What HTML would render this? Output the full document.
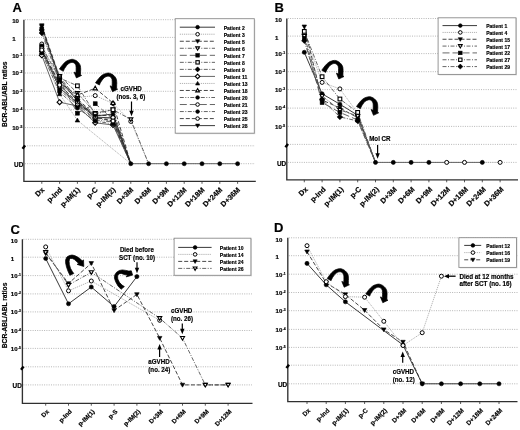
<!DOCTYPE html><html><head><meta charset="utf-8"><style>html,body{margin:0;padding:0;background:#fff;width:520px;height:430px;overflow:hidden}svg{display:block;filter:grayscale(1) blur(0.3px)}text{font-family:"Liberation Sans",sans-serif;fill:#000;stroke:#000;stroke-width:0.18px}</style></head><body>
<svg width="520" height="430" viewBox="0 0 520 430">
<line x1="24.90" y1="19.70" x2="255.00" y2="19.70" stroke="#a4a4a4" stroke-width="0.8" stroke-dasharray="1 1.3"/>
<line x1="24.90" y1="37.40" x2="255.00" y2="37.40" stroke="#a4a4a4" stroke-width="0.8" stroke-dasharray="1 1.3"/>
<line x1="24.90" y1="55.20" x2="255.00" y2="55.20" stroke="#a4a4a4" stroke-width="0.8" stroke-dasharray="1 1.3"/>
<line x1="24.90" y1="73.00" x2="255.00" y2="73.00" stroke="#a4a4a4" stroke-width="0.8" stroke-dasharray="1 1.3"/>
<line x1="24.90" y1="91.30" x2="255.00" y2="91.30" stroke="#a4a4a4" stroke-width="0.8" stroke-dasharray="1 1.3"/>
<line x1="24.90" y1="109.70" x2="255.00" y2="109.70" stroke="#a4a4a4" stroke-width="0.8" stroke-dasharray="1 1.3"/>
<line x1="24.90" y1="127.60" x2="255.00" y2="127.60" stroke="#a4a4a4" stroke-width="0.8" stroke-dasharray="1 1.3"/>
<line x1="24.90" y1="145.80" x2="255.00" y2="145.80" stroke="#a4a4a4" stroke-width="0.8" stroke-dasharray="1 1.3"/>
<line x1="24.90" y1="163.70" x2="255.00" y2="163.70" stroke="#a4a4a4" stroke-width="0.8" stroke-dasharray="1 1.3"/>
<text x="12.20" y="23.40" font-size="6.1" font-weight="bold" text-anchor="start" >10</text>
<text x="12.20" y="41.10" font-size="6.1" font-weight="bold" text-anchor="start" >1</text>
<text x="12.20" y="57.50" font-size="6.1" font-weight="bold">10<tspan font-size="3.4" dx="0.4" dy="-2.0">-1</tspan></text>
<text x="12.20" y="75.30" font-size="6.1" font-weight="bold">10<tspan font-size="3.4" dx="0.4" dy="-2.0">-2</tspan></text>
<text x="12.20" y="93.60" font-size="6.1" font-weight="bold">10<tspan font-size="3.4" dx="0.4" dy="-2.0">-3</tspan></text>
<text x="12.20" y="112.00" font-size="6.1" font-weight="bold">10<tspan font-size="3.4" dx="0.4" dy="-2.0">-4</tspan></text>
<text x="12.20" y="129.90" font-size="6.1" font-weight="bold">10<tspan font-size="3.4" dx="0.4" dy="-2.0">-5</tspan></text>
<text x="23.30" y="167.20" font-size="6.4" font-weight="bold" text-anchor="end" >UD</text>
<path d="M23.90,19.70V181.40H255.80" fill="none" stroke="#303030" stroke-width="1.35"/>
<path d="M22.50,148.70L25.10,145.40" stroke="#000" stroke-width="2.4"/>
<line x1="41.80" y1="181.40" x2="41.80" y2="183.80" stroke="#303030" stroke-width="0.8"/>
<text transform="translate(44.80,190.30) rotate(-45)" font-size="7.4" font-weight="bold" text-anchor="end">Dx</text>
<line x1="59.60" y1="181.40" x2="59.60" y2="183.80" stroke="#303030" stroke-width="0.8"/>
<text transform="translate(62.60,190.30) rotate(-45)" font-size="7.4" font-weight="bold" text-anchor="end">p-Ind</text>
<line x1="77.40" y1="181.40" x2="77.40" y2="183.80" stroke="#303030" stroke-width="0.8"/>
<text transform="translate(80.40,190.30) rotate(-45)" font-size="7.4" font-weight="bold" text-anchor="end">p-IM(1)</text>
<line x1="95.20" y1="181.40" x2="95.20" y2="183.80" stroke="#303030" stroke-width="0.8"/>
<text transform="translate(98.20,190.30) rotate(-45)" font-size="7.4" font-weight="bold" text-anchor="end">p-C</text>
<line x1="113.00" y1="181.40" x2="113.00" y2="183.80" stroke="#303030" stroke-width="0.8"/>
<text transform="translate(116.00,190.30) rotate(-45)" font-size="7.4" font-weight="bold" text-anchor="end">p-IM(2)</text>
<line x1="130.80" y1="181.40" x2="130.80" y2="183.80" stroke="#303030" stroke-width="0.8"/>
<text transform="translate(133.80,190.30) rotate(-45)" font-size="7.4" font-weight="bold" text-anchor="end">D+3M</text>
<line x1="148.60" y1="181.40" x2="148.60" y2="183.80" stroke="#303030" stroke-width="0.8"/>
<text transform="translate(151.60,190.30) rotate(-45)" font-size="7.4" font-weight="bold" text-anchor="end">D+6M</text>
<line x1="166.40" y1="181.40" x2="166.40" y2="183.80" stroke="#303030" stroke-width="0.8"/>
<text transform="translate(169.40,190.30) rotate(-45)" font-size="7.4" font-weight="bold" text-anchor="end">D+9M</text>
<line x1="184.20" y1="181.40" x2="184.20" y2="183.80" stroke="#303030" stroke-width="0.8"/>
<text transform="translate(187.20,190.30) rotate(-45)" font-size="7.4" font-weight="bold" text-anchor="end">D+12M</text>
<line x1="202.00" y1="181.40" x2="202.00" y2="183.80" stroke="#303030" stroke-width="0.8"/>
<text transform="translate(205.00,190.30) rotate(-45)" font-size="7.4" font-weight="bold" text-anchor="end">D+18M</text>
<line x1="219.80" y1="181.40" x2="219.80" y2="183.80" stroke="#303030" stroke-width="0.8"/>
<text transform="translate(222.80,190.30) rotate(-45)" font-size="7.4" font-weight="bold" text-anchor="end">D+24M</text>
<line x1="237.60" y1="181.40" x2="237.60" y2="183.80" stroke="#303030" stroke-width="0.8"/>
<text transform="translate(240.60,190.30) rotate(-45)" font-size="7.4" font-weight="bold" text-anchor="end">D+36M</text>
<text x="12.60" y="11.60" font-size="13" font-weight="bold" text-anchor="start" >A</text>
<line x1="287.80" y1="18.50" x2="517.80" y2="18.50" stroke="#a4a4a4" stroke-width="0.8" stroke-dasharray="1 1.3"/>
<line x1="287.80" y1="36.10" x2="517.80" y2="36.10" stroke="#a4a4a4" stroke-width="0.8" stroke-dasharray="1 1.3"/>
<line x1="287.80" y1="53.60" x2="517.80" y2="53.60" stroke="#a4a4a4" stroke-width="0.8" stroke-dasharray="1 1.3"/>
<line x1="287.80" y1="71.70" x2="517.80" y2="71.70" stroke="#a4a4a4" stroke-width="0.8" stroke-dasharray="1 1.3"/>
<line x1="287.80" y1="89.60" x2="517.80" y2="89.60" stroke="#a4a4a4" stroke-width="0.8" stroke-dasharray="1 1.3"/>
<line x1="287.80" y1="108.10" x2="517.80" y2="108.10" stroke="#a4a4a4" stroke-width="0.8" stroke-dasharray="1 1.3"/>
<line x1="287.80" y1="126.40" x2="517.80" y2="126.40" stroke="#a4a4a4" stroke-width="0.8" stroke-dasharray="1 1.3"/>
<line x1="287.80" y1="144.40" x2="517.80" y2="144.40" stroke="#a4a4a4" stroke-width="0.8" stroke-dasharray="1 1.3"/>
<line x1="287.80" y1="162.40" x2="517.80" y2="162.40" stroke="#a4a4a4" stroke-width="0.8" stroke-dasharray="1 1.3"/>
<text x="275.00" y="22.20" font-size="6.1" font-weight="bold" text-anchor="start" >10</text>
<text x="275.00" y="39.80" font-size="6.1" font-weight="bold" text-anchor="start" >1</text>
<text x="275.00" y="55.90" font-size="6.1" font-weight="bold">10<tspan font-size="3.4" dx="0.4" dy="-2.0">-1</tspan></text>
<text x="275.00" y="74.00" font-size="6.1" font-weight="bold">10<tspan font-size="3.4" dx="0.4" dy="-2.0">-2</tspan></text>
<text x="275.00" y="91.90" font-size="6.1" font-weight="bold">10<tspan font-size="3.4" dx="0.4" dy="-2.0">-3</tspan></text>
<text x="275.00" y="110.40" font-size="6.1" font-weight="bold">10<tspan font-size="3.4" dx="0.4" dy="-2.0">-4</tspan></text>
<text x="275.00" y="128.70" font-size="6.1" font-weight="bold">10<tspan font-size="3.4" dx="0.4" dy="-2.0">-5</tspan></text>
<text x="286.20" y="165.90" font-size="6.4" font-weight="bold" text-anchor="end" >UD</text>
<path d="M286.80,18.50V179.90H518.00" fill="none" stroke="#303030" stroke-width="1.35"/>
<path d="M285.40,147.30L288.00,144.00" stroke="#000" stroke-width="2.4"/>
<line x1="304.30" y1="179.90" x2="304.30" y2="182.30" stroke="#303030" stroke-width="0.8"/>
<text transform="translate(308.30,189.80) rotate(-45)" font-size="7.4" font-weight="bold" text-anchor="end">Dx</text>
<line x1="322.10" y1="179.90" x2="322.10" y2="182.30" stroke="#303030" stroke-width="0.8"/>
<text transform="translate(326.10,189.80) rotate(-45)" font-size="7.4" font-weight="bold" text-anchor="end">p-Ind</text>
<line x1="339.90" y1="179.90" x2="339.90" y2="182.30" stroke="#303030" stroke-width="0.8"/>
<text transform="translate(343.90,189.80) rotate(-45)" font-size="7.4" font-weight="bold" text-anchor="end">p-IM(1)</text>
<line x1="357.70" y1="179.90" x2="357.70" y2="182.30" stroke="#303030" stroke-width="0.8"/>
<text transform="translate(361.70,189.80) rotate(-45)" font-size="7.4" font-weight="bold" text-anchor="end">p-C</text>
<line x1="375.50" y1="179.90" x2="375.50" y2="182.30" stroke="#303030" stroke-width="0.8"/>
<text transform="translate(379.50,189.80) rotate(-45)" font-size="7.4" font-weight="bold" text-anchor="end">p-IM(2)</text>
<line x1="393.30" y1="179.90" x2="393.30" y2="182.30" stroke="#303030" stroke-width="0.8"/>
<text transform="translate(397.30,189.80) rotate(-45)" font-size="7.4" font-weight="bold" text-anchor="end">D+3M</text>
<line x1="411.10" y1="179.90" x2="411.10" y2="182.30" stroke="#303030" stroke-width="0.8"/>
<text transform="translate(415.10,189.80) rotate(-45)" font-size="7.4" font-weight="bold" text-anchor="end">D+6M</text>
<line x1="428.90" y1="179.90" x2="428.90" y2="182.30" stroke="#303030" stroke-width="0.8"/>
<text transform="translate(432.90,189.80) rotate(-45)" font-size="7.4" font-weight="bold" text-anchor="end">D+9M</text>
<line x1="446.70" y1="179.90" x2="446.70" y2="182.30" stroke="#303030" stroke-width="0.8"/>
<text transform="translate(450.70,189.80) rotate(-45)" font-size="7.4" font-weight="bold" text-anchor="end">D+12M</text>
<line x1="464.50" y1="179.90" x2="464.50" y2="182.30" stroke="#303030" stroke-width="0.8"/>
<text transform="translate(468.50,189.80) rotate(-45)" font-size="7.4" font-weight="bold" text-anchor="end">D+18M</text>
<line x1="482.30" y1="179.90" x2="482.30" y2="182.30" stroke="#303030" stroke-width="0.8"/>
<text transform="translate(486.30,189.80) rotate(-45)" font-size="7.4" font-weight="bold" text-anchor="end">D+24M</text>
<line x1="500.10" y1="179.90" x2="500.10" y2="182.30" stroke="#303030" stroke-width="0.8"/>
<text transform="translate(504.10,189.80) rotate(-45)" font-size="7.4" font-weight="bold" text-anchor="end">D+36M</text>
<text x="274.40" y="11.60" font-size="13" font-weight="bold" text-anchor="start" >B</text>
<line x1="23.40" y1="239.30" x2="252.00" y2="239.30" stroke="#a4a4a4" stroke-width="0.8" stroke-dasharray="1 1.3"/>
<line x1="23.40" y1="257.20" x2="252.00" y2="257.20" stroke="#a4a4a4" stroke-width="0.8" stroke-dasharray="1 1.3"/>
<line x1="23.40" y1="275.60" x2="252.00" y2="275.60" stroke="#a4a4a4" stroke-width="0.8" stroke-dasharray="1 1.3"/>
<line x1="23.40" y1="293.90" x2="252.00" y2="293.90" stroke="#a4a4a4" stroke-width="0.8" stroke-dasharray="1 1.3"/>
<line x1="23.40" y1="311.90" x2="252.00" y2="311.90" stroke="#a4a4a4" stroke-width="0.8" stroke-dasharray="1 1.3"/>
<line x1="23.40" y1="330.50" x2="252.00" y2="330.50" stroke="#a4a4a4" stroke-width="0.8" stroke-dasharray="1 1.3"/>
<line x1="23.40" y1="348.40" x2="252.00" y2="348.40" stroke="#a4a4a4" stroke-width="0.8" stroke-dasharray="1 1.3"/>
<line x1="23.40" y1="366.80" x2="252.00" y2="366.80" stroke="#a4a4a4" stroke-width="0.8" stroke-dasharray="1 1.3"/>
<line x1="23.40" y1="384.90" x2="252.00" y2="384.90" stroke="#a4a4a4" stroke-width="0.8" stroke-dasharray="1 1.3"/>
<text x="10.80" y="243.00" font-size="6.1" font-weight="bold" text-anchor="start" >10</text>
<text x="10.80" y="260.90" font-size="6.1" font-weight="bold" text-anchor="start" >1</text>
<text x="10.80" y="277.90" font-size="6.1" font-weight="bold">10<tspan font-size="3.4" dx="0.4" dy="-2.0">-1</tspan></text>
<text x="10.80" y="296.20" font-size="6.1" font-weight="bold">10<tspan font-size="3.4" dx="0.4" dy="-2.0">-2</tspan></text>
<text x="10.80" y="314.20" font-size="6.1" font-weight="bold">10<tspan font-size="3.4" dx="0.4" dy="-2.0">-3</tspan></text>
<text x="10.80" y="332.80" font-size="6.1" font-weight="bold">10<tspan font-size="3.4" dx="0.4" dy="-2.0">-4</tspan></text>
<text x="10.80" y="350.70" font-size="6.1" font-weight="bold">10<tspan font-size="3.4" dx="0.4" dy="-2.0">-5</tspan></text>
<text x="21.80" y="388.40" font-size="6.4" font-weight="bold" text-anchor="end" >UD</text>
<path d="M22.40,239.30V403.30H252.50" fill="none" stroke="#303030" stroke-width="1.35"/>
<path d="M21.00,369.70L23.60,366.40" stroke="#000" stroke-width="2.4"/>
<line x1="45.70" y1="403.30" x2="45.70" y2="405.70" stroke="#303030" stroke-width="0.8"/>
<text transform="translate(49.50,412.00) rotate(-45)" font-size="6.3" font-weight="bold" text-anchor="end">Dx</text>
<line x1="68.50" y1="403.30" x2="68.50" y2="405.70" stroke="#303030" stroke-width="0.8"/>
<text transform="translate(72.30,412.00) rotate(-45)" font-size="6.3" font-weight="bold" text-anchor="end">p-Ind</text>
<line x1="91.30" y1="403.30" x2="91.30" y2="405.70" stroke="#303030" stroke-width="0.8"/>
<text transform="translate(95.10,412.00) rotate(-45)" font-size="6.3" font-weight="bold" text-anchor="end">p-IM(1)</text>
<line x1="114.10" y1="403.30" x2="114.10" y2="405.70" stroke="#303030" stroke-width="0.8"/>
<text transform="translate(117.90,412.00) rotate(-45)" font-size="6.3" font-weight="bold" text-anchor="end">p-S</text>
<line x1="136.90" y1="403.30" x2="136.90" y2="405.70" stroke="#303030" stroke-width="0.8"/>
<text transform="translate(140.70,412.00) rotate(-45)" font-size="6.3" font-weight="bold" text-anchor="end">p-IM(2)</text>
<line x1="159.70" y1="403.30" x2="159.70" y2="405.70" stroke="#303030" stroke-width="0.8"/>
<text transform="translate(163.50,412.00) rotate(-45)" font-size="6.3" font-weight="bold" text-anchor="end">D+3M</text>
<line x1="182.50" y1="403.30" x2="182.50" y2="405.70" stroke="#303030" stroke-width="0.8"/>
<text transform="translate(186.30,412.00) rotate(-45)" font-size="6.3" font-weight="bold" text-anchor="end">D+6M</text>
<line x1="205.30" y1="403.30" x2="205.30" y2="405.70" stroke="#303030" stroke-width="0.8"/>
<text transform="translate(209.10,412.00) rotate(-45)" font-size="6.3" font-weight="bold" text-anchor="end">D+9M</text>
<line x1="228.10" y1="403.30" x2="228.10" y2="405.70" stroke="#303030" stroke-width="0.8"/>
<text transform="translate(231.90,412.00) rotate(-45)" font-size="6.3" font-weight="bold" text-anchor="end">D+12M</text>
<text x="10.50" y="234.00" font-size="13" font-weight="bold" text-anchor="start" >C</text>
<line x1="288.80" y1="237.80" x2="517.80" y2="237.80" stroke="#a4a4a4" stroke-width="0.8" stroke-dasharray="1 1.3"/>
<line x1="288.80" y1="255.70" x2="517.80" y2="255.70" stroke="#a4a4a4" stroke-width="0.8" stroke-dasharray="1 1.3"/>
<line x1="288.80" y1="274.20" x2="517.80" y2="274.20" stroke="#a4a4a4" stroke-width="0.8" stroke-dasharray="1 1.3"/>
<line x1="288.80" y1="292.50" x2="517.80" y2="292.50" stroke="#a4a4a4" stroke-width="0.8" stroke-dasharray="1 1.3"/>
<line x1="288.80" y1="310.70" x2="517.80" y2="310.70" stroke="#a4a4a4" stroke-width="0.8" stroke-dasharray="1 1.3"/>
<line x1="288.80" y1="329.40" x2="517.80" y2="329.40" stroke="#a4a4a4" stroke-width="0.8" stroke-dasharray="1 1.3"/>
<line x1="288.80" y1="347.40" x2="517.80" y2="347.40" stroke="#a4a4a4" stroke-width="0.8" stroke-dasharray="1 1.3"/>
<line x1="288.80" y1="365.20" x2="517.80" y2="365.20" stroke="#a4a4a4" stroke-width="0.8" stroke-dasharray="1 1.3"/>
<line x1="288.80" y1="383.80" x2="517.80" y2="383.80" stroke="#a4a4a4" stroke-width="0.8" stroke-dasharray="1 1.3"/>
<text x="275.50" y="241.50" font-size="6.1" font-weight="bold" text-anchor="start" >10</text>
<text x="275.50" y="259.40" font-size="6.1" font-weight="bold" text-anchor="start" >1</text>
<text x="275.50" y="276.50" font-size="6.1" font-weight="bold">10<tspan font-size="3.4" dx="0.4" dy="-2.0">-1</tspan></text>
<text x="275.50" y="294.80" font-size="6.1" font-weight="bold">10<tspan font-size="3.4" dx="0.4" dy="-2.0">-2</tspan></text>
<text x="275.50" y="313.00" font-size="6.1" font-weight="bold">10<tspan font-size="3.4" dx="0.4" dy="-2.0">-3</tspan></text>
<text x="275.50" y="331.70" font-size="6.1" font-weight="bold">10<tspan font-size="3.4" dx="0.4" dy="-2.0">-4</tspan></text>
<text x="275.50" y="349.70" font-size="6.1" font-weight="bold">10<tspan font-size="3.4" dx="0.4" dy="-2.0">-5</tspan></text>
<text x="287.20" y="387.30" font-size="6.4" font-weight="bold" text-anchor="end" >UD</text>
<path d="M287.80,237.80V401.60H517.50" fill="none" stroke="#303030" stroke-width="1.35"/>
<path d="M286.40,368.10L289.00,364.80" stroke="#000" stroke-width="2.4"/>
<line x1="307.00" y1="401.60" x2="307.00" y2="404.00" stroke="#303030" stroke-width="0.8"/>
<text transform="translate(310.70,411.00) rotate(-45)" font-size="6.4" font-weight="bold" text-anchor="end">Dx</text>
<line x1="326.20" y1="401.60" x2="326.20" y2="404.00" stroke="#303030" stroke-width="0.8"/>
<text transform="translate(329.90,411.00) rotate(-45)" font-size="6.4" font-weight="bold" text-anchor="end">p-Ind</text>
<line x1="345.40" y1="401.60" x2="345.40" y2="404.00" stroke="#303030" stroke-width="0.8"/>
<text transform="translate(349.10,411.00) rotate(-45)" font-size="6.4" font-weight="bold" text-anchor="end">p-IM(1)</text>
<line x1="364.60" y1="401.60" x2="364.60" y2="404.00" stroke="#303030" stroke-width="0.8"/>
<text transform="translate(368.30,411.00) rotate(-45)" font-size="6.4" font-weight="bold" text-anchor="end">p-C</text>
<line x1="383.80" y1="401.60" x2="383.80" y2="404.00" stroke="#303030" stroke-width="0.8"/>
<text transform="translate(387.50,411.00) rotate(-45)" font-size="6.4" font-weight="bold" text-anchor="end">p-IM(2)</text>
<line x1="403.00" y1="401.60" x2="403.00" y2="404.00" stroke="#303030" stroke-width="0.8"/>
<text transform="translate(406.70,411.00) rotate(-45)" font-size="6.4" font-weight="bold" text-anchor="end">D+3M</text>
<line x1="422.20" y1="401.60" x2="422.20" y2="404.00" stroke="#303030" stroke-width="0.8"/>
<text transform="translate(425.90,411.00) rotate(-45)" font-size="6.4" font-weight="bold" text-anchor="end">D+6M</text>
<line x1="441.40" y1="401.60" x2="441.40" y2="404.00" stroke="#303030" stroke-width="0.8"/>
<text transform="translate(445.10,411.00) rotate(-45)" font-size="6.4" font-weight="bold" text-anchor="end">D+9M</text>
<line x1="460.60" y1="401.60" x2="460.60" y2="404.00" stroke="#303030" stroke-width="0.8"/>
<text transform="translate(464.30,411.00) rotate(-45)" font-size="6.4" font-weight="bold" text-anchor="end">D+12M</text>
<line x1="479.80" y1="401.60" x2="479.80" y2="404.00" stroke="#303030" stroke-width="0.8"/>
<text transform="translate(483.50,411.00) rotate(-45)" font-size="6.4" font-weight="bold" text-anchor="end">D+18M</text>
<line x1="499.00" y1="401.60" x2="499.00" y2="404.00" stroke="#303030" stroke-width="0.8"/>
<text transform="translate(502.70,411.00) rotate(-45)" font-size="6.4" font-weight="bold" text-anchor="end">D+24M</text>
<text x="274.00" y="232.40" font-size="13" font-weight="bold" text-anchor="start" >D</text>
<text transform="translate(7.3,94.3) rotate(-90)" font-size="6.65" font-weight="bold" text-anchor="middle">BCR-ABL/ABL ratios</text>
<text transform="translate(7.0,315.4) rotate(-90)" font-size="6.65" font-weight="bold" text-anchor="middle">BCR-ABL/ABL ratios</text>
<path d="M41.80,51.00L59.60,88.00L77.40,103.00L95.20,117.00L113.00,118.00L130.80,163.70" fill="none" stroke="#222" stroke-width="0.9"/>
<path d="M41.80,44.00L59.60,84.00L77.40,97.50L95.20,95.60L113.00,103.50L130.80,121.40L148.60,163.70" fill="none" stroke="#a0a0a0" stroke-width="0.8" stroke-dasharray="1.2 0.9"/>
<path d="M41.80,25.50L59.60,77.00L77.40,99.00L95.20,115.00L113.00,116.00L130.80,163.70" fill="none" stroke="#333" stroke-width="0.9" stroke-dasharray="4 2"/>
<path d="M41.80,31.50L59.60,76.00L77.40,93.00L95.20,113.00L113.00,109.70L130.80,119.40L148.60,163.70" fill="none" stroke="#555" stroke-width="0.9" stroke-dasharray="4 1.5 1 1.5"/>
<path d="M41.80,29.00L59.60,80.00L77.40,113.20L95.20,103.70L113.00,119.00L130.80,163.70" fill="none" stroke="#555" stroke-width="0.9" stroke-dasharray="7 3"/>
<path d="M41.80,47.00L59.60,78.00L77.40,85.80L95.20,114.00L113.00,109.70L130.80,163.70" fill="none" stroke="#555" stroke-width="0.9" stroke-dasharray="4 1.5 1 1.5"/>
<path d="M41.80,33.00L59.60,82.00L77.40,100.00L95.20,118.00L113.00,121.00L130.80,163.70" fill="none" stroke="#555" stroke-width="0.9" stroke-dasharray="4 1.5 1 1.5"/>
<path d="M41.80,55.30L59.60,102.20L77.40,106.00L95.20,122.80L113.00,125.00L130.80,163.70" fill="none" stroke="#555" stroke-width="0.9"/>
<path d="M41.80,52.00L59.60,94.00L77.40,120.30L130.80,163.70" fill="none" stroke="#a0a0a0" stroke-width="0.8" stroke-dasharray="1.2 0.9"/>
<path d="M41.80,50.00L59.60,83.00L77.40,95.00L95.20,88.30L113.00,103.00L130.80,163.70" fill="none" stroke="#333" stroke-width="0.9" stroke-dasharray="4 2"/>
<path d="M41.80,46.00L59.60,90.00L77.40,105.00L95.20,120.00L113.00,122.00L130.80,163.70" fill="none" stroke="#555" stroke-width="0.9" stroke-dasharray="4 1.5 1 1.5 1 1.5"/>
<path d="M41.80,48.50L59.60,86.00L77.40,104.00L95.20,119.00L113.00,117.50L130.80,163.70" fill="none" stroke="#555" stroke-width="0.9" stroke-dasharray="7 3"/>
<path d="M41.80,53.00L59.60,92.00L77.40,108.00L95.20,121.00L113.00,124.00L130.80,163.70" fill="none" stroke="#555" stroke-width="0.9" stroke-dasharray="4 1.5 1 1.5"/>
<path d="M41.80,50.00L59.60,85.00L77.40,102.00L95.20,117.00L113.00,121.00L130.80,163.70" fill="none" stroke="#333" stroke-width="0.9" stroke-dasharray="4 2"/>
<path d="M41.80,26.50L59.60,79.00L77.40,101.00L95.20,116.00L113.00,114.00L130.80,163.70" fill="none" stroke="#222" stroke-width="0.9"/>
<path d="M130.80,163.70L237.60,163.70" fill="none" stroke="#555" stroke-width="0.9"/>
<path d="M304.30,52.30L322.10,93.80L339.90,104.20L357.70,115.30L375.50,162.40" fill="none" stroke="#222" stroke-width="0.9"/>
<path d="M304.30,33.70L322.10,82.40L339.90,88.90L357.70,113.00L375.50,162.40" fill="none" stroke="#a0a0a0" stroke-width="0.8" stroke-dasharray="1.2 0.9"/>
<path d="M304.30,26.70L322.10,100.00L339.90,108.00L357.70,117.70L375.50,162.40" fill="none" stroke="#333" stroke-width="0.9" stroke-dasharray="4 2"/>
<path d="M304.30,36.00L322.10,96.00L339.90,110.00L357.70,116.00L375.50,162.40" fill="none" stroke="#555" stroke-width="0.9" stroke-dasharray="4 1.5 1 1.5"/>
<path d="M304.30,38.40L322.10,102.60L339.90,112.40L357.70,120.00L375.50,162.40" fill="none" stroke="#555" stroke-width="0.9" stroke-dasharray="7 3"/>
<path d="M304.30,31.40L322.10,76.70L339.90,99.00L357.70,112.40L375.50,162.40" fill="none" stroke="#555" stroke-width="0.9" stroke-dasharray="4 1.5 1 1.5"/>
<path d="M304.30,40.70L322.10,99.80L339.90,116.90L357.70,121.00L375.50,162.40" fill="none" stroke="#555" stroke-width="0.9" stroke-dasharray="4 1.5 1 1.5"/>
<path d="M375.50,162.40L482.30,162.40" fill="none" stroke="#555" stroke-width="0.9"/>
<path d="M482.30,162.40L500.10,162.40" fill="none" stroke="#999" stroke-width="0.7" stroke-dasharray="1 1"/>
<path d="M45.70,246.90L68.50,290.80L91.30,281.00L159.70,320.30" fill="none" stroke="#a0a0a0" stroke-width="0.8" stroke-dasharray="1.2 0.9"/>
<path d="M45.70,253.40L68.50,283.40L91.30,263.30L114.10,310.40L136.90,294.40L159.70,338.10L182.50,384.90L205.30,384.90L228.10,384.90" fill="none" stroke="#333" stroke-width="0.9" stroke-dasharray="4 2"/>
<path d="M45.70,252.20L68.50,285.00L91.30,272.30L159.70,318.20L182.50,338.10L205.30,384.90L228.10,384.90" fill="none" stroke="#555" stroke-width="0.9" stroke-dasharray="4 1.5 1 1.5"/>
<path d="M45.70,258.50L68.50,303.80L91.30,287.00L114.10,306.60L136.90,276.60" fill="none" stroke="#222" stroke-width="0.9"/>
<path d="M307.00,263.40L326.20,284.80L345.40,301.80L403.00,345.00L422.20,383.80L441.40,383.80L460.60,383.80L479.80,383.80L499.00,383.80" fill="none" stroke="#222" stroke-width="0.9"/>
<path d="M307.00,251.70L326.20,283.00L345.40,294.50L364.60,310.20L383.80,329.60L403.00,342.00L422.20,383.80" fill="none" stroke="#333" stroke-width="0.9" stroke-dasharray="4 2"/>
<path d="M307.00,245.70L326.20,281.70L345.40,296.60L364.60,297.20L383.80,321.30L403.00,345.50L422.20,332.70L441.40,276.20" fill="none" stroke="#a0a0a0" stroke-width="0.8" stroke-dasharray="1.2 0.9"/>
<circle cx="41.80" cy="51.00" r="2.05" fill="#000" stroke="#000" stroke-width="0.6"/>
<circle cx="59.60" cy="88.00" r="2.05" fill="#000" stroke="#000" stroke-width="0.6"/>
<circle cx="77.40" cy="103.00" r="2.05" fill="#000" stroke="#000" stroke-width="0.6"/>
<circle cx="95.20" cy="117.00" r="2.05" fill="#000" stroke="#000" stroke-width="0.6"/>
<circle cx="113.00" cy="118.00" r="2.05" fill="#000" stroke="#000" stroke-width="0.6"/>
<circle cx="41.80" cy="44.00" r="2.00" fill="#fff" stroke="#000" stroke-width="1.0"/>
<circle cx="59.60" cy="84.00" r="2.00" fill="#fff" stroke="#000" stroke-width="1.0"/>
<circle cx="77.40" cy="97.50" r="2.00" fill="#fff" stroke="#000" stroke-width="1.0"/>
<circle cx="95.20" cy="95.60" r="2.00" fill="#fff" stroke="#000" stroke-width="1.0"/>
<circle cx="113.00" cy="103.50" r="2.00" fill="#fff" stroke="#000" stroke-width="1.0"/>
<circle cx="130.80" cy="121.40" r="2.00" fill="#fff" stroke="#000" stroke-width="1.0"/>
<path d="M39.55,23.81L44.05,23.81L41.80,27.75Z" fill="#000" stroke="#000" stroke-width="0.6"/>
<path d="M57.35,75.31L61.85,75.31L59.60,79.25Z" fill="#000" stroke="#000" stroke-width="0.6"/>
<path d="M75.15,97.31L79.65,97.31L77.40,101.25Z" fill="#000" stroke="#000" stroke-width="0.6"/>
<path d="M92.95,113.31L97.45,113.31L95.20,117.25Z" fill="#000" stroke="#000" stroke-width="0.6"/>
<path d="M110.75,114.31L115.25,114.31L113.00,118.25Z" fill="#000" stroke="#000" stroke-width="0.6"/>
<path d="M39.73,29.95L43.87,29.95L41.80,33.57Z" fill="#fff" stroke="#000" stroke-width="1.1"/>
<path d="M57.53,74.45L61.67,74.45L59.60,78.07Z" fill="#fff" stroke="#000" stroke-width="1.1"/>
<path d="M75.33,91.45L79.47,91.45L77.40,95.07Z" fill="#fff" stroke="#000" stroke-width="1.1"/>
<path d="M93.13,111.45L97.27,111.45L95.20,115.07Z" fill="#fff" stroke="#000" stroke-width="1.1"/>
<path d="M110.93,108.15L115.07,108.15L113.00,111.77Z" fill="#fff" stroke="#000" stroke-width="1.1"/>
<path d="M128.73,117.85L132.87,117.85L130.80,121.47Z" fill="#fff" stroke="#000" stroke-width="1.1"/>
<rect x="39.84" y="27.05" width="3.91" height="3.91" fill="#000" stroke="#000" stroke-width="0.6"/>
<rect x="57.64" y="78.05" width="3.91" height="3.91" fill="#000" stroke="#000" stroke-width="0.6"/>
<rect x="75.45" y="111.25" width="3.91" height="3.91" fill="#000" stroke="#000" stroke-width="0.6"/>
<rect x="93.25" y="101.75" width="3.91" height="3.91" fill="#000" stroke="#000" stroke-width="0.6"/>
<rect x="111.05" y="117.05" width="3.91" height="3.91" fill="#000" stroke="#000" stroke-width="0.6"/>
<rect x="39.96" y="45.16" width="3.68" height="3.68" fill="#fff" stroke="#000" stroke-width="1.1"/>
<rect x="57.76" y="76.16" width="3.68" height="3.68" fill="#fff" stroke="#000" stroke-width="1.1"/>
<rect x="75.56" y="83.96" width="3.68" height="3.68" fill="#fff" stroke="#000" stroke-width="1.1"/>
<rect x="93.36" y="112.16" width="3.68" height="3.68" fill="#fff" stroke="#000" stroke-width="1.1"/>
<rect x="111.16" y="107.86" width="3.68" height="3.68" fill="#fff" stroke="#000" stroke-width="1.1"/>
<path d="M41.80,30.24L44.56,33.00L41.80,35.76L39.04,33.00Z" fill="#000" stroke="#000" stroke-width="0.6"/>
<path d="M59.60,79.24L62.36,82.00L59.60,84.76L56.84,82.00Z" fill="#000" stroke="#000" stroke-width="0.6"/>
<path d="M77.40,97.24L80.16,100.00L77.40,102.76L74.64,100.00Z" fill="#000" stroke="#000" stroke-width="0.6"/>
<path d="M95.20,115.24L97.96,118.00L95.20,120.76L92.44,118.00Z" fill="#000" stroke="#000" stroke-width="0.6"/>
<path d="M113.00,118.24L115.76,121.00L113.00,123.76L110.24,121.00Z" fill="#000" stroke="#000" stroke-width="0.6"/>
<path d="M41.80,52.77L44.33,55.30L41.80,57.83L39.27,55.30Z" fill="#fff" stroke="#000" stroke-width="1.1"/>
<path d="M59.60,99.67L62.13,102.20L59.60,104.73L57.07,102.20Z" fill="#fff" stroke="#000" stroke-width="1.1"/>
<path d="M77.40,103.47L79.93,106.00L77.40,108.53L74.87,106.00Z" fill="#fff" stroke="#000" stroke-width="1.1"/>
<path d="M95.20,120.27L97.73,122.80L95.20,125.33L92.67,122.80Z" fill="#fff" stroke="#000" stroke-width="1.1"/>
<path d="M113.00,122.47L115.53,125.00L113.00,127.53L110.47,125.00Z" fill="#fff" stroke="#000" stroke-width="1.1"/>
<path d="M39.55,53.69L44.05,53.69L41.80,49.75Z" fill="#000" stroke="#000" stroke-width="0.6"/>
<path d="M57.35,95.69L61.85,95.69L59.60,91.75Z" fill="#000" stroke="#000" stroke-width="0.6"/>
<path d="M75.15,121.99L79.65,121.99L77.40,118.05Z" fill="#000" stroke="#000" stroke-width="0.6"/>
<path d="M39.73,51.55L43.87,51.55L41.80,47.93Z" fill="#fff" stroke="#000" stroke-width="1.1"/>
<path d="M57.53,84.55L61.67,84.55L59.60,80.93Z" fill="#fff" stroke="#000" stroke-width="1.1"/>
<path d="M75.33,96.55L79.47,96.55L77.40,92.93Z" fill="#fff" stroke="#000" stroke-width="1.1"/>
<path d="M93.13,89.85L97.27,89.85L95.20,86.23Z" fill="#fff" stroke="#000" stroke-width="1.1"/>
<path d="M110.93,104.55L115.07,104.55L113.00,100.93Z" fill="#fff" stroke="#000" stroke-width="1.1"/>
<circle cx="41.80" cy="46.00" r="2.05" fill="#000" stroke="#000" stroke-width="0.6"/>
<circle cx="59.60" cy="90.00" r="2.05" fill="#000" stroke="#000" stroke-width="0.6"/>
<circle cx="77.40" cy="105.00" r="2.05" fill="#000" stroke="#000" stroke-width="0.6"/>
<circle cx="95.20" cy="120.00" r="2.05" fill="#000" stroke="#000" stroke-width="0.6"/>
<circle cx="113.00" cy="122.00" r="2.05" fill="#000" stroke="#000" stroke-width="0.6"/>
<circle cx="41.80" cy="48.50" r="2.00" fill="#fff" stroke="#000" stroke-width="1.0"/>
<circle cx="59.60" cy="86.00" r="2.00" fill="#fff" stroke="#000" stroke-width="1.0"/>
<circle cx="77.40" cy="104.00" r="2.00" fill="#fff" stroke="#000" stroke-width="1.0"/>
<circle cx="95.20" cy="119.00" r="2.00" fill="#fff" stroke="#000" stroke-width="1.0"/>
<circle cx="113.00" cy="117.50" r="2.00" fill="#fff" stroke="#000" stroke-width="1.0"/>
<circle cx="41.80" cy="53.00" r="2.05" fill="#000" stroke="#000" stroke-width="0.6"/>
<circle cx="59.60" cy="92.00" r="2.05" fill="#000" stroke="#000" stroke-width="0.6"/>
<circle cx="77.40" cy="108.00" r="2.05" fill="#000" stroke="#000" stroke-width="0.6"/>
<circle cx="95.20" cy="121.00" r="2.05" fill="#000" stroke="#000" stroke-width="0.6"/>
<circle cx="113.00" cy="124.00" r="2.05" fill="#000" stroke="#000" stroke-width="0.6"/>
<circle cx="41.80" cy="50.00" r="2.00" fill="#fff" stroke="#000" stroke-width="1.0"/>
<circle cx="59.60" cy="85.00" r="2.00" fill="#fff" stroke="#000" stroke-width="1.0"/>
<circle cx="77.40" cy="102.00" r="2.00" fill="#fff" stroke="#000" stroke-width="1.0"/>
<circle cx="95.20" cy="117.00" r="2.00" fill="#fff" stroke="#000" stroke-width="1.0"/>
<circle cx="113.00" cy="121.00" r="2.00" fill="#fff" stroke="#000" stroke-width="1.0"/>
<path d="M39.55,24.81L44.05,24.81L41.80,28.75Z" fill="#000" stroke="#000" stroke-width="0.6"/>
<path d="M57.35,77.31L61.85,77.31L59.60,81.25Z" fill="#000" stroke="#000" stroke-width="0.6"/>
<path d="M75.15,99.31L79.65,99.31L77.40,103.25Z" fill="#000" stroke="#000" stroke-width="0.6"/>
<path d="M92.95,114.31L97.45,114.31L95.20,118.25Z" fill="#000" stroke="#000" stroke-width="0.6"/>
<path d="M110.75,112.31L115.25,112.31L113.00,116.25Z" fill="#000" stroke="#000" stroke-width="0.6"/>
<circle cx="130.80" cy="163.70" r="2.05" fill="#000" stroke="#000" stroke-width="0.6"/>
<circle cx="148.60" cy="163.70" r="2.05" fill="#000" stroke="#000" stroke-width="0.6"/>
<circle cx="166.40" cy="163.70" r="2.05" fill="#000" stroke="#000" stroke-width="0.6"/>
<circle cx="184.20" cy="163.70" r="2.05" fill="#000" stroke="#000" stroke-width="0.6"/>
<circle cx="202.00" cy="163.70" r="2.05" fill="#000" stroke="#000" stroke-width="0.6"/>
<circle cx="219.80" cy="163.70" r="2.05" fill="#000" stroke="#000" stroke-width="0.6"/>
<circle cx="237.60" cy="163.70" r="2.05" fill="#000" stroke="#000" stroke-width="0.6"/>
<circle cx="304.30" cy="52.30" r="2.05" fill="#000" stroke="#000" stroke-width="0.6"/>
<circle cx="322.10" cy="93.80" r="2.05" fill="#000" stroke="#000" stroke-width="0.6"/>
<circle cx="339.90" cy="104.20" r="2.05" fill="#000" stroke="#000" stroke-width="0.6"/>
<circle cx="357.70" cy="115.30" r="2.05" fill="#000" stroke="#000" stroke-width="0.6"/>
<circle cx="304.30" cy="33.70" r="2.00" fill="#fff" stroke="#000" stroke-width="1.0"/>
<circle cx="322.10" cy="82.40" r="2.00" fill="#fff" stroke="#000" stroke-width="1.0"/>
<circle cx="339.90" cy="88.90" r="2.00" fill="#fff" stroke="#000" stroke-width="1.0"/>
<circle cx="357.70" cy="113.00" r="2.00" fill="#fff" stroke="#000" stroke-width="1.0"/>
<path d="M302.05,25.01L306.55,25.01L304.30,28.95Z" fill="#000" stroke="#000" stroke-width="0.6"/>
<path d="M319.85,98.31L324.35,98.31L322.10,102.25Z" fill="#000" stroke="#000" stroke-width="0.6"/>
<path d="M337.65,106.31L342.15,106.31L339.90,110.25Z" fill="#000" stroke="#000" stroke-width="0.6"/>
<path d="M355.45,116.01L359.95,116.01L357.70,119.95Z" fill="#000" stroke="#000" stroke-width="0.6"/>
<path d="M302.23,34.45L306.37,34.45L304.30,38.07Z" fill="#fff" stroke="#000" stroke-width="1.1"/>
<path d="M320.03,94.45L324.17,94.45L322.10,98.07Z" fill="#fff" stroke="#000" stroke-width="1.1"/>
<path d="M337.83,108.45L341.97,108.45L339.90,112.07Z" fill="#fff" stroke="#000" stroke-width="1.1"/>
<path d="M355.63,114.45L359.77,114.45L357.70,118.07Z" fill="#fff" stroke="#000" stroke-width="1.1"/>
<rect x="302.35" y="36.45" width="3.91" height="3.91" fill="#000" stroke="#000" stroke-width="0.6"/>
<rect x="320.15" y="100.64" width="3.91" height="3.91" fill="#000" stroke="#000" stroke-width="0.6"/>
<rect x="337.95" y="110.45" width="3.91" height="3.91" fill="#000" stroke="#000" stroke-width="0.6"/>
<rect x="355.75" y="118.05" width="3.91" height="3.91" fill="#000" stroke="#000" stroke-width="0.6"/>
<rect x="302.46" y="29.56" width="3.68" height="3.68" fill="#fff" stroke="#000" stroke-width="1.1"/>
<rect x="320.26" y="74.86" width="3.68" height="3.68" fill="#fff" stroke="#000" stroke-width="1.1"/>
<rect x="338.06" y="97.16" width="3.68" height="3.68" fill="#fff" stroke="#000" stroke-width="1.1"/>
<rect x="355.86" y="110.56" width="3.68" height="3.68" fill="#fff" stroke="#000" stroke-width="1.1"/>
<path d="M304.30,37.94L307.06,40.70L304.30,43.46L301.54,40.70Z" fill="#000" stroke="#000" stroke-width="0.6"/>
<path d="M322.10,97.04L324.86,99.80L322.10,102.56L319.34,99.80Z" fill="#000" stroke="#000" stroke-width="0.6"/>
<path d="M339.90,114.14L342.66,116.90L339.90,119.66L337.14,116.90Z" fill="#000" stroke="#000" stroke-width="0.6"/>
<path d="M357.70,118.24L360.46,121.00L357.70,123.76L354.94,121.00Z" fill="#000" stroke="#000" stroke-width="0.6"/>
<circle cx="375.50" cy="162.40" r="2.05" fill="#000" stroke="#000" stroke-width="0.6"/>
<circle cx="393.30" cy="162.40" r="2.05" fill="#000" stroke="#000" stroke-width="0.6"/>
<circle cx="411.10" cy="162.40" r="2.05" fill="#000" stroke="#000" stroke-width="0.6"/>
<circle cx="428.90" cy="162.40" r="2.05" fill="#000" stroke="#000" stroke-width="0.6"/>
<circle cx="446.70" cy="162.40" r="2.00" fill="#fff" stroke="#000" stroke-width="1.0"/>
<circle cx="464.50" cy="162.40" r="2.00" fill="#fff" stroke="#000" stroke-width="1.0"/>
<circle cx="482.30" cy="162.40" r="2.05" fill="#000" stroke="#000" stroke-width="0.6"/>
<circle cx="500.10" cy="162.40" r="2.00" fill="#fff" stroke="#000" stroke-width="1.0"/>
<circle cx="45.70" cy="246.90" r="2.00" fill="#fff" stroke="#000" stroke-width="1.0"/>
<circle cx="68.50" cy="290.80" r="2.00" fill="#fff" stroke="#000" stroke-width="1.0"/>
<circle cx="91.30" cy="281.00" r="2.00" fill="#fff" stroke="#000" stroke-width="1.0"/>
<circle cx="159.70" cy="320.30" r="2.00" fill="#fff" stroke="#000" stroke-width="1.0"/>
<path d="M43.45,251.71L47.95,251.71L45.70,255.65Z" fill="#000" stroke="#000" stroke-width="0.6"/>
<path d="M66.25,281.71L70.75,281.71L68.50,285.65Z" fill="#000" stroke="#000" stroke-width="0.6"/>
<path d="M89.05,261.61L93.55,261.61L91.30,265.55Z" fill="#000" stroke="#000" stroke-width="0.6"/>
<path d="M111.85,308.71L116.35,308.71L114.10,312.65Z" fill="#000" stroke="#000" stroke-width="0.6"/>
<path d="M134.65,292.71L139.15,292.71L136.90,296.65Z" fill="#000" stroke="#000" stroke-width="0.6"/>
<path d="M157.45,336.41L161.95,336.41L159.70,340.35Z" fill="#000" stroke="#000" stroke-width="0.6"/>
<path d="M180.25,383.21L184.75,383.21L182.50,387.15Z" fill="#000" stroke="#000" stroke-width="0.6"/>
<path d="M203.05,383.21L207.55,383.21L205.30,387.15Z" fill="#000" stroke="#000" stroke-width="0.6"/>
<path d="M225.85,383.21L230.35,383.21L228.10,387.15Z" fill="#000" stroke="#000" stroke-width="0.6"/>
<path d="M43.63,250.65L47.77,250.65L45.70,254.27Z" fill="#fff" stroke="#000" stroke-width="1.1"/>
<path d="M66.43,283.45L70.57,283.45L68.50,287.07Z" fill="#fff" stroke="#000" stroke-width="1.1"/>
<path d="M89.23,270.75L93.37,270.75L91.30,274.37Z" fill="#fff" stroke="#000" stroke-width="1.1"/>
<path d="M157.63,316.65L161.77,316.65L159.70,320.27Z" fill="#fff" stroke="#000" stroke-width="1.1"/>
<path d="M180.43,336.55L184.57,336.55L182.50,340.17Z" fill="#fff" stroke="#000" stroke-width="1.1"/>
<path d="M203.23,383.35L207.37,383.35L205.30,386.97Z" fill="#fff" stroke="#000" stroke-width="1.1"/>
<path d="M226.03,383.35L230.17,383.35L228.10,386.97Z" fill="#fff" stroke="#000" stroke-width="1.1"/>
<circle cx="45.70" cy="258.50" r="2.05" fill="#000" stroke="#000" stroke-width="0.6"/>
<circle cx="68.50" cy="303.80" r="2.05" fill="#000" stroke="#000" stroke-width="0.6"/>
<circle cx="91.30" cy="287.00" r="2.05" fill="#000" stroke="#000" stroke-width="0.6"/>
<circle cx="114.10" cy="306.60" r="2.05" fill="#000" stroke="#000" stroke-width="0.6"/>
<circle cx="136.90" cy="276.60" r="2.05" fill="#000" stroke="#000" stroke-width="0.6"/>
<circle cx="307.00" cy="263.40" r="2.05" fill="#000" stroke="#000" stroke-width="0.6"/>
<circle cx="326.20" cy="284.80" r="2.05" fill="#000" stroke="#000" stroke-width="0.6"/>
<circle cx="345.40" cy="301.80" r="2.05" fill="#000" stroke="#000" stroke-width="0.6"/>
<circle cx="403.00" cy="345.00" r="2.05" fill="#000" stroke="#000" stroke-width="0.6"/>
<circle cx="422.20" cy="383.80" r="2.05" fill="#000" stroke="#000" stroke-width="0.6"/>
<circle cx="441.40" cy="383.80" r="2.05" fill="#000" stroke="#000" stroke-width="0.6"/>
<circle cx="460.60" cy="383.80" r="2.05" fill="#000" stroke="#000" stroke-width="0.6"/>
<circle cx="479.80" cy="383.80" r="2.05" fill="#000" stroke="#000" stroke-width="0.6"/>
<circle cx="499.00" cy="383.80" r="2.05" fill="#000" stroke="#000" stroke-width="0.6"/>
<path d="M304.75,250.01L309.25,250.01L307.00,253.95Z" fill="#000" stroke="#000" stroke-width="0.6"/>
<path d="M323.95,281.31L328.45,281.31L326.20,285.25Z" fill="#000" stroke="#000" stroke-width="0.6"/>
<path d="M343.15,292.81L347.65,292.81L345.40,296.75Z" fill="#000" stroke="#000" stroke-width="0.6"/>
<path d="M362.35,308.51L366.85,308.51L364.60,312.45Z" fill="#000" stroke="#000" stroke-width="0.6"/>
<path d="M381.55,327.91L386.05,327.91L383.80,331.85Z" fill="#000" stroke="#000" stroke-width="0.6"/>
<path d="M400.75,340.31L405.25,340.31L403.00,344.25Z" fill="#000" stroke="#000" stroke-width="0.6"/>
<path d="M419.95,382.11L424.45,382.11L422.20,386.05Z" fill="#000" stroke="#000" stroke-width="0.6"/>
<circle cx="307.00" cy="245.70" r="2.00" fill="#fff" stroke="#000" stroke-width="1.0"/>
<circle cx="326.20" cy="281.70" r="2.00" fill="#fff" stroke="#000" stroke-width="1.0"/>
<circle cx="345.40" cy="296.60" r="2.00" fill="#fff" stroke="#000" stroke-width="1.0"/>
<circle cx="364.60" cy="297.20" r="2.00" fill="#fff" stroke="#000" stroke-width="1.0"/>
<circle cx="383.80" cy="321.30" r="2.00" fill="#fff" stroke="#000" stroke-width="1.0"/>
<circle cx="403.00" cy="345.50" r="2.00" fill="#fff" stroke="#000" stroke-width="1.0"/>
<circle cx="422.20" cy="332.70" r="2.00" fill="#fff" stroke="#000" stroke-width="1.0"/>
<circle cx="441.40" cy="276.20" r="2.00" fill="#fff" stroke="#000" stroke-width="1.0"/>
<rect x="176.20" y="19.70" width="79.10" height="114.50" fill="#dcdcdc" stroke="none"/>
<rect x="175.20" y="18.70" width="79.10" height="114.50" fill="#fff" stroke="#8a8a8a" stroke-width="0.9"/>
<path d="M179.80,27.20L215.00,27.20" fill="none" stroke="#222" stroke-width="0.9"/>
<circle cx="197.60" cy="27.20" r="1.85" fill="#000" stroke="#000" stroke-width="0.6"/>
<text transform="translate(223.70,29.65) scale(0.87,1)" font-size="5.8" font-weight="bold">Patient 2</text>
<path d="M179.80,34.23L215.00,34.23" fill="none" stroke="#a0a0a0" stroke-width="0.8" stroke-dasharray="1.2 0.9"/>
<circle cx="197.60" cy="34.23" r="1.80" fill="#fff" stroke="#000" stroke-width="1.0"/>
<text transform="translate(223.70,36.68) scale(0.87,1)" font-size="5.8" font-weight="bold">Patient 3</text>
<path d="M179.80,41.26L215.00,41.26" fill="none" stroke="#333" stroke-width="0.9" stroke-dasharray="4 2"/>
<path d="M195.54,39.72L199.66,39.72L197.60,43.32Z" fill="#000" stroke="#000" stroke-width="0.6"/>
<text transform="translate(223.70,43.71) scale(0.87,1)" font-size="5.8" font-weight="bold">Patient 5</text>
<path d="M179.80,48.29L215.00,48.29" fill="none" stroke="#555" stroke-width="0.9" stroke-dasharray="4 1.5 1 1.5"/>
<path d="M195.71,46.87L199.49,46.87L197.60,50.18Z" fill="#fff" stroke="#000" stroke-width="1.1"/>
<text transform="translate(223.70,50.74) scale(0.87,1)" font-size="5.8" font-weight="bold">Patient 6</text>
<path d="M179.80,55.32L215.00,55.32" fill="none" stroke="#555" stroke-width="0.9" stroke-dasharray="7 3"/>
<rect x="195.81" y="53.54" width="3.57" height="3.57" fill="#000" stroke="#000" stroke-width="0.6"/>
<text transform="translate(223.70,57.77) scale(0.87,1)" font-size="5.8" font-weight="bold">Patient 7</text>
<path d="M179.80,62.35L215.00,62.35" fill="none" stroke="#555" stroke-width="0.9" stroke-dasharray="4 1.5 1 1.5"/>
<rect x="195.92" y="60.67" width="3.36" height="3.36" fill="#fff" stroke="#000" stroke-width="1.1"/>
<text transform="translate(223.70,64.80) scale(0.87,1)" font-size="5.8" font-weight="bold">Patient 8</text>
<path d="M179.80,69.38L215.00,69.38" fill="none" stroke="#555" stroke-width="0.9" stroke-dasharray="4 1.5 1 1.5"/>
<path d="M197.60,66.86L200.12,69.38L197.60,71.90L195.08,69.38Z" fill="#000" stroke="#000" stroke-width="0.6"/>
<text transform="translate(223.70,71.83) scale(0.87,1)" font-size="5.8" font-weight="bold">Patient 9</text>
<path d="M179.80,76.41L215.00,76.41" fill="none" stroke="#555" stroke-width="0.9"/>
<path d="M197.60,74.10L199.91,76.41L197.60,78.72L195.29,76.41Z" fill="#fff" stroke="#000" stroke-width="1.1"/>
<text transform="translate(223.70,78.86) scale(0.87,1)" font-size="5.8" font-weight="bold">Patient 11</text>
<path d="M179.80,83.44L215.00,83.44" fill="none" stroke="#a0a0a0" stroke-width="0.8" stroke-dasharray="1.2 0.9"/>
<path d="M195.54,84.98L199.66,84.98L197.60,81.38Z" fill="#000" stroke="#000" stroke-width="0.6"/>
<text transform="translate(223.70,85.89) scale(0.87,1)" font-size="5.8" font-weight="bold">Patient 13</text>
<path d="M179.80,90.47L215.00,90.47" fill="none" stroke="#333" stroke-width="0.9" stroke-dasharray="4 2"/>
<path d="M195.71,91.89L199.49,91.89L197.60,88.58Z" fill="#fff" stroke="#000" stroke-width="1.1"/>
<text transform="translate(223.70,92.92) scale(0.87,1)" font-size="5.8" font-weight="bold">Patient 18</text>
<path d="M179.80,97.50L215.00,97.50" fill="none" stroke="#555" stroke-width="0.9" stroke-dasharray="4 1.5 1 1.5 1 1.5"/>
<circle cx="197.60" cy="97.50" r="1.85" fill="#000" stroke="#000" stroke-width="0.6"/>
<text transform="translate(223.70,99.95) scale(0.87,1)" font-size="5.8" font-weight="bold">Patient 20</text>
<path d="M179.80,104.53L215.00,104.53" fill="none" stroke="#555" stroke-width="0.9" stroke-dasharray="7 3"/>
<circle cx="197.60" cy="104.53" r="1.80" fill="#fff" stroke="#000" stroke-width="1.0"/>
<text transform="translate(223.70,106.98) scale(0.87,1)" font-size="5.8" font-weight="bold">Patient 21</text>
<path d="M179.80,111.56L215.00,111.56" fill="none" stroke="#555" stroke-width="0.9" stroke-dasharray="4 1.5 1 1.5"/>
<circle cx="197.60" cy="111.56" r="1.85" fill="#000" stroke="#000" stroke-width="0.6"/>
<text transform="translate(223.70,114.01) scale(0.87,1)" font-size="5.8" font-weight="bold">Patient 23</text>
<path d="M179.80,118.59L215.00,118.59" fill="none" stroke="#333" stroke-width="0.9" stroke-dasharray="4 2"/>
<circle cx="197.60" cy="118.59" r="1.80" fill="#fff" stroke="#000" stroke-width="1.0"/>
<text transform="translate(223.70,121.04) scale(0.87,1)" font-size="5.8" font-weight="bold">Patient 25</text>
<path d="M179.80,125.62L215.00,125.62" fill="none" stroke="#222" stroke-width="0.9"/>
<path d="M195.54,124.08L199.66,124.08L197.60,127.68Z" fill="#000" stroke="#000" stroke-width="0.6"/>
<text transform="translate(223.70,128.07) scale(0.87,1)" font-size="5.8" font-weight="bold">Patient 28</text>
<rect x="439.10" y="18.80" width="77.90" height="56.60" fill="#dcdcdc" stroke="none"/>
<rect x="438.10" y="17.80" width="77.90" height="56.60" fill="#fff" stroke="#8a8a8a" stroke-width="0.9"/>
<path d="M442.50,25.60L477.00,25.60" fill="none" stroke="#222" stroke-width="0.9"/>
<circle cx="460.30" cy="25.60" r="1.85" fill="#000" stroke="#000" stroke-width="0.6"/>
<text transform="translate(486.20,28.05) scale(0.87,1)" font-size="5.8" font-weight="bold">Patient 1</text>
<path d="M442.50,32.43L477.00,32.43" fill="none" stroke="#a0a0a0" stroke-width="0.8" stroke-dasharray="1.2 0.9"/>
<circle cx="460.30" cy="32.43" r="1.80" fill="#fff" stroke="#000" stroke-width="1.0"/>
<text transform="translate(486.20,34.88) scale(0.87,1)" font-size="5.8" font-weight="bold">Patient 4</text>
<path d="M442.50,39.26L477.00,39.26" fill="none" stroke="#333" stroke-width="0.9" stroke-dasharray="4 2"/>
<path d="M458.24,37.72L462.36,37.72L460.30,41.32Z" fill="#000" stroke="#000" stroke-width="0.6"/>
<text transform="translate(486.20,41.71) scale(0.87,1)" font-size="5.8" font-weight="bold">Patient 15</text>
<path d="M442.50,46.09L477.00,46.09" fill="none" stroke="#555" stroke-width="0.9" stroke-dasharray="4 1.5 1 1.5"/>
<path d="M458.41,44.67L462.19,44.67L460.30,47.98Z" fill="#fff" stroke="#000" stroke-width="1.1"/>
<text transform="translate(486.20,48.54) scale(0.87,1)" font-size="5.8" font-weight="bold">Patient 17</text>
<path d="M442.50,52.92L477.00,52.92" fill="none" stroke="#555" stroke-width="0.9" stroke-dasharray="7 3"/>
<rect x="458.51" y="51.14" width="3.57" height="3.57" fill="#000" stroke="#000" stroke-width="0.6"/>
<text transform="translate(486.20,55.37) scale(0.87,1)" font-size="5.8" font-weight="bold">Patient 22</text>
<path d="M442.50,59.75L477.00,59.75" fill="none" stroke="#555" stroke-width="0.9" stroke-dasharray="4 1.5 1 1.5"/>
<rect x="458.62" y="58.07" width="3.36" height="3.36" fill="#fff" stroke="#000" stroke-width="1.1"/>
<text transform="translate(486.20,62.20) scale(0.87,1)" font-size="5.8" font-weight="bold">Patient 27</text>
<path d="M442.50,66.58L477.00,66.58" fill="none" stroke="#555" stroke-width="0.9" stroke-dasharray="4 1.5 1 1.5"/>
<path d="M460.30,64.06L462.82,66.58L460.30,69.10L457.78,66.58Z" fill="#000" stroke="#000" stroke-width="0.6"/>
<text transform="translate(486.20,69.03) scale(0.87,1)" font-size="5.8" font-weight="bold">Patient 29</text>
<rect x="175.10" y="239.20" width="76.80" height="37.10" fill="#dcdcdc" stroke="none"/>
<rect x="174.10" y="238.20" width="76.80" height="37.10" fill="#fff" stroke="#8a8a8a" stroke-width="0.9"/>
<path d="M178.20,247.40L211.60,247.40" fill="none" stroke="#222" stroke-width="0.9"/>
<circle cx="195.10" cy="247.40" r="1.85" fill="#000" stroke="#000" stroke-width="0.6"/>
<text transform="translate(219.80,249.85) scale(0.87,1)" font-size="5.8" font-weight="bold">Patient 10</text>
<path d="M178.20,254.40L211.60,254.40" fill="none" stroke="#a0a0a0" stroke-width="0.8" stroke-dasharray="1.2 0.9"/>
<circle cx="195.10" cy="254.40" r="1.80" fill="#fff" stroke="#000" stroke-width="1.0"/>
<text transform="translate(219.80,256.85) scale(0.87,1)" font-size="5.8" font-weight="bold">Patient 14</text>
<path d="M178.20,261.40L211.60,261.40" fill="none" stroke="#333" stroke-width="0.9" stroke-dasharray="4 2"/>
<path d="M193.04,259.86L197.16,259.86L195.10,263.46Z" fill="#000" stroke="#000" stroke-width="0.6"/>
<text transform="translate(219.80,263.85) scale(0.87,1)" font-size="5.8" font-weight="bold">Patient 24</text>
<path d="M178.20,268.40L211.60,268.40" fill="none" stroke="#555" stroke-width="0.9" stroke-dasharray="4 1.5 1 1.5"/>
<path d="M193.21,266.98L196.99,266.98L195.10,270.29Z" fill="#fff" stroke="#000" stroke-width="1.1"/>
<text transform="translate(219.80,270.85) scale(0.87,1)" font-size="5.8" font-weight="bold">Patient 26</text>
<rect x="459.90" y="238.70" width="57.60" height="29.70" fill="#dcdcdc" stroke="none"/>
<rect x="458.90" y="237.70" width="57.60" height="29.70" fill="#fff" stroke="#8a8a8a" stroke-width="0.9"/>
<path d="M464.20,245.40L481.20,245.40" fill="none" stroke="#222" stroke-width="0.9"/>
<circle cx="472.90" cy="245.40" r="1.85" fill="#000" stroke="#000" stroke-width="0.6"/>
<text transform="translate(486.30,247.85) scale(0.87,1)" font-size="5.8" font-weight="bold">Patient 12</text>
<path d="M464.20,252.60L481.20,252.60" fill="none" stroke="#a0a0a0" stroke-width="0.8" stroke-dasharray="1.2 0.9"/>
<circle cx="472.90" cy="252.60" r="1.80" fill="#fff" stroke="#000" stroke-width="1.0"/>
<text transform="translate(486.30,255.05) scale(0.87,1)" font-size="5.8" font-weight="bold">Patient 16</text>
<path d="M464.20,259.80L481.20,259.80" fill="none" stroke="#333" stroke-width="0.9" stroke-dasharray="4 2"/>
<path d="M470.84,258.26L474.96,258.26L472.90,261.86Z" fill="#000" stroke="#000" stroke-width="0.6"/>
<text transform="translate(486.30,262.25) scale(0.87,1)" font-size="5.8" font-weight="bold">Patient 19</text>
<path d="M59.40,69.10L61.00,66.80L62.50,64.90L64.10,63.10L65.80,61.60L67.50,60.50L69.20,59.90L70.60,59.50L72.00,59.30L73.40,59.40L74.70,59.90L76.20,60.60L77.50,61.60L78.80,62.90L79.80,64.40L80.40,66.00L80.60,67.70L80.70,69.40L80.60,71.10L80.50,74.90L81.60,75.40L76.40,77.90L74.00,72.10L76.00,72.90L76.10,70.00L76.10,67.50L75.90,65.60L75.30,64.30L74.50,63.30L73.50,62.70L72.40,62.40L71.10,62.50L69.70,63.00L68.20,63.90L66.90,65.20L65.80,66.70L64.70,68.30L63.90,69.80L63.30,71.30Z" fill="#000" stroke="#000" stroke-width="0.7" stroke-linejoin="round"/>
<path d="M95.50,82.85L97.10,80.55L98.60,78.65L100.20,76.85L101.90,75.35L103.60,74.25L105.30,73.65L106.70,73.25L108.10,73.05L109.50,73.15L110.80,73.65L112.30,74.35L113.60,75.35L114.90,76.65L115.90,78.15L116.50,79.75L116.70,81.45L116.80,83.15L116.70,84.85L116.60,88.65L117.70,89.15L112.50,91.65L110.10,85.85L112.10,86.65L112.20,83.75L112.20,81.25L112.00,79.35L111.40,78.05L110.60,77.05L109.60,76.45L108.50,76.15L107.20,76.25L105.80,76.75L104.30,77.65L103.00,78.95L101.90,80.45L100.80,82.05L100.00,83.55L99.40,85.05Z" fill="#000" stroke="#000" stroke-width="0.7" stroke-linejoin="round"/>
<path d="M321.80,70.20L323.40,67.90L324.90,66.00L326.50,64.20L328.20,62.70L329.90,61.60L331.60,61.00L333.00,60.60L334.40,60.40L335.80,60.50L337.10,61.00L338.60,61.70L339.90,62.70L341.20,64.00L342.20,65.50L342.80,67.10L343.00,68.80L343.10,70.50L343.00,72.20L342.90,76.00L344.00,76.50L338.80,79.00L336.40,73.20L338.40,74.00L338.50,71.10L338.50,68.60L338.30,66.70L337.70,65.40L336.90,64.40L335.90,63.80L334.80,63.50L333.50,63.60L332.10,64.10L330.60,65.00L329.30,66.30L328.20,67.80L327.10,69.40L326.30,70.90L325.70,72.40Z" fill="#000" stroke="#000" stroke-width="0.7" stroke-linejoin="round"/>
<path d="M356.50,106.50L358.10,104.20L359.60,102.30L361.20,100.50L362.90,99.00L364.60,97.90L366.30,97.30L367.70,96.90L369.10,96.70L370.50,96.80L371.80,97.30L373.30,98.00L374.60,99.00L375.90,100.30L376.90,101.80L377.50,103.40L377.70,105.10L377.80,106.80L377.70,108.50L377.60,112.30L378.70,112.80L373.50,115.30L371.10,109.50L373.10,110.30L373.20,107.40L373.20,104.90L373.00,103.00L372.40,101.70L371.60,100.70L370.60,100.10L369.50,99.80L368.20,99.90L366.80,100.40L365.30,101.30L364.00,102.60L362.90,104.10L361.80,105.70L361.00,107.20L360.40,108.70Z" fill="#000" stroke="#000" stroke-width="0.7" stroke-linejoin="round"/>
<path d="M327.20,278.45L328.80,276.15L330.30,274.25L331.90,272.45L333.60,270.95L335.30,269.85L337.00,269.25L338.40,268.85L339.80,268.65L341.20,268.75L342.50,269.25L344.00,269.95L345.30,270.95L346.60,272.25L347.60,273.75L348.20,275.35L348.40,277.05L348.50,278.75L348.40,280.45L348.30,284.25L349.40,284.75L344.20,287.25L341.80,281.45L343.80,282.25L343.90,279.35L343.90,276.85L343.70,274.95L343.10,273.65L342.30,272.65L341.30,272.05L340.20,271.75L338.90,271.85L337.50,272.35L336.00,273.25L334.70,274.55L333.60,276.05L332.50,277.65L331.70,279.15L331.10,280.65Z" fill="#000" stroke="#000" stroke-width="0.7" stroke-linejoin="round"/>
<path d="M365.80,293.90L367.40,291.60L368.90,289.70L370.50,287.90L372.20,286.40L373.90,285.30L375.60,284.70L377.00,284.30L378.40,284.10L379.80,284.20L381.10,284.70L382.60,285.40L383.90,286.40L385.20,287.70L386.20,289.20L386.80,290.80L387.00,292.50L387.10,294.20L387.00,295.90L386.90,299.70L388.00,300.20L382.80,302.70L380.40,296.90L382.40,297.70L382.50,294.80L382.50,292.30L382.30,290.40L381.70,289.10L380.90,288.10L379.90,287.50L378.80,287.20L377.50,287.30L376.10,287.80L374.60,288.70L373.30,290.00L372.20,291.50L371.10,293.10L370.30,294.60L369.70,296.10Z" fill="#000" stroke="#000" stroke-width="0.7" stroke-linejoin="round"/>
<path d="M69.90,275.30L68.00,271.30L66.50,267.10L65.60,262.90L65.60,259.90L66.80,257.10L69.30,255.60L72.00,255.00L74.70,255.60L77.70,257.10L80.30,259.00L82.20,260.80L83.50,259.90L83.80,266.50L77.10,264.40L78.60,263.30L76.50,261.50L74.50,259.60L72.30,258.50L70.50,258.50L69.50,259.50L69.10,261.30L69.40,264.50L70.50,268.30L72.20,271.30L73.80,273.50Z" fill="#000" stroke="#000" stroke-width="0.7" stroke-linejoin="round"/>
<path d="M121.10,289.30L118.00,286.00L115.60,281.70L114.40,278.10L114.70,275.10L116.50,272.30L119.30,270.50L122.30,269.90L125.90,270.40L128.90,271.10L131.30,270.80L132.60,275.10L126.20,276.90L127.40,275.00L124.10,274.40L121.10,273.40L118.90,273.90L117.60,275.70L117.80,279.00L119.40,282.30L122.00,285.10L124.40,286.60Z" fill="#000" stroke="#000" stroke-width="0.7" stroke-linejoin="round"/>
<text transform="translate(120.50,91.20) scale(0.94,1)" font-size="6.60" font-weight="bold">cGVHD</text>
<text transform="translate(116.40,99.40) scale(0.94,1)" font-size="6.60" font-weight="bold">(nos. 3, 6)</text>
<line x1="131.50" y1="101.50" x2="131.50" y2="111.80" stroke="#000" stroke-width="1.2"/>
<path d="M129.30,110.70L133.70,110.70L131.50,116.20Z" fill="#000"/>
<text transform="translate(369.20,140.80) scale(0.94,1)" font-size="6.60" font-weight="bold">Mol CR</text>
<line x1="377.60" y1="144.90" x2="377.60" y2="154.40" stroke="#000" stroke-width="1.2"/>
<path d="M375.40,153.30L379.80,153.30L377.60,158.80Z" fill="#000"/>
<text transform="translate(119.90,251.60) scale(0.94,1)" font-size="6.60" font-weight="bold">Died before</text>
<text transform="translate(119.00,259.50) scale(0.94,1)" font-size="6.60" font-weight="bold">SCT (no. 10)</text>
<line x1="137.00" y1="262.20" x2="137.00" y2="268.90" stroke="#000" stroke-width="1.2"/>
<path d="M134.80,267.80L139.20,267.80L137.00,273.30Z" fill="#000"/>
<text transform="translate(171.00,312.60) scale(0.94,1)" font-size="6.60" font-weight="bold">cGVHD</text>
<text transform="translate(171.00,320.60) scale(0.94,1)" font-size="6.60" font-weight="bold">(no. 26)</text>
<line x1="182.30" y1="323.50" x2="182.30" y2="329.80" stroke="#000" stroke-width="1.2"/>
<path d="M180.10,328.70L184.50,328.70L182.30,334.20Z" fill="#000"/>
<text transform="translate(148.30,363.60) scale(0.94,1)" font-size="6.60" font-weight="bold">aGVHD</text>
<text transform="translate(148.30,371.60) scale(0.94,1)" font-size="6.60" font-weight="bold">(no. 24)</text>
<line x1="159.60" y1="357.00" x2="159.60" y2="348.40" stroke="#000" stroke-width="1.2"/>
<path d="M157.40,349.50L161.80,349.50L159.60,344.00Z" fill="#000"/>
<text transform="translate(392.70,373.60) scale(0.94,1)" font-size="6.60" font-weight="bold">cGVHD</text>
<text transform="translate(392.70,381.90) scale(0.94,1)" font-size="6.60" font-weight="bold">(no. 12)</text>
<line x1="402.70" y1="362.80" x2="402.70" y2="356.00" stroke="#000" stroke-width="1.2"/>
<path d="M400.50,357.10L404.90,357.10L402.70,351.60Z" fill="#000"/>
<text transform="translate(459.40,278.60) scale(0.94,1)" font-size="6.71" font-weight="bold">Died at 12 months</text>
<text transform="translate(459.40,285.90) scale(0.94,1)" font-size="6.71" font-weight="bold">after SCT (no. 16)</text>
<line x1="455.60" y1="276.20" x2="448.00" y2="276.20" stroke="#000" stroke-width="1.3"/>
<path d="M449.00,274.00L449.00,278.40L444.00,276.20Z" fill="#000"/>
</svg></body></html>
